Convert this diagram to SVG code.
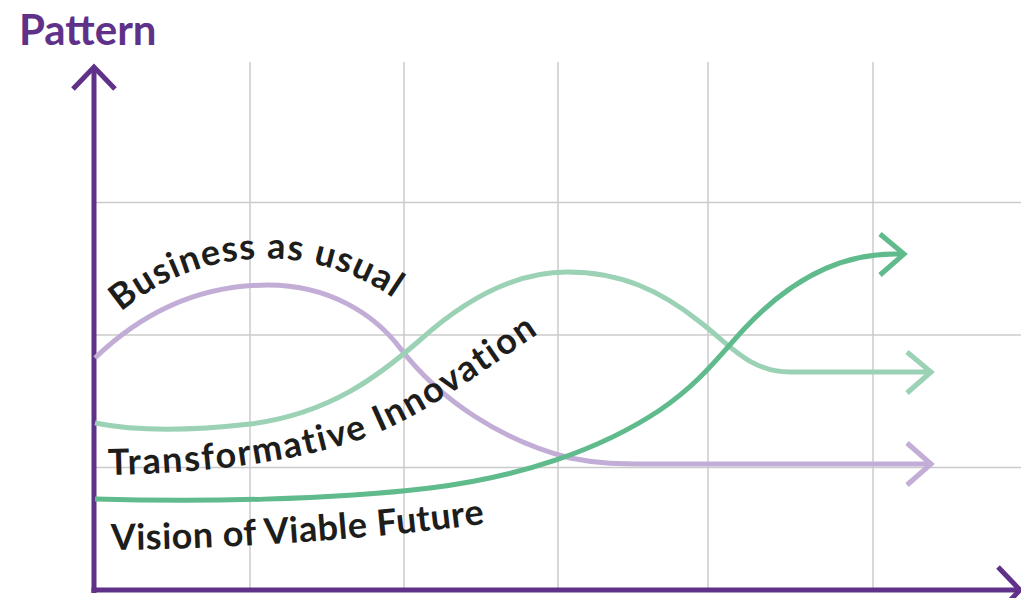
<svg xmlns="http://www.w3.org/2000/svg" width="1021" height="598" viewBox="0 0 1021 598">
<style>
.grid{stroke:#cbcbcb;stroke-width:1.5;fill:none}
.axis{stroke:#5f3189;stroke-width:5;fill:none;stroke-linecap:butt;stroke-linejoin:miter}
.curve{fill:none;stroke-width:5;stroke-linejoin:miter}
.bau{stroke:#c1add6}
.ti{stroke:#9bd1b5}
.vvf{stroke:#5fba8c}
.lbl{font-family:Lato,"Open Sans","Liberation Sans",sans-serif;font-weight:700;font-size:36px;fill:#1d1d1b}
.title{font-family:Lato,"Open Sans","Liberation Sans",sans-serif;font-weight:700;font-size:42px;fill:#5f3189}
</style>
<defs>
<path id="p-bau" d="M 121 312 A 224 224 0 0 1 404 306"/>
<path id="p-ti" d="M 108 475 C 200 473, 270 465, 340 446 C 410 427, 470 380, 545 329"/>
<path id="p-vvf" d="M 111 550 Q 300 548, 492 523"/>
</defs>
<rect width="1021" height="598" fill="#ffffff"/>
<g id="grid">
<line class="grid" x1="250" y1="62" x2="250" y2="590"/>
<line class="grid" x1="404" y1="62" x2="404" y2="590"/>
<line class="grid" x1="558" y1="62" x2="558" y2="590"/>
<line class="grid" x1="708" y1="62" x2="708" y2="590"/>
<line class="grid" x1="873" y1="62" x2="873" y2="590"/>
<line class="grid" x1="94" y1="202.5" x2="1021" y2="202.5"/>
<line class="grid" x1="94" y1="335" x2="1021" y2="335"/>
<line class="grid" x1="94" y1="467.5" x2="1021" y2="467.5"/>
</g>
<g id="axes">
<line class="axis" x1="94" y1="593" x2="94" y2="68"/>
<polyline class="axis" points="73,89 94,67 115,89"/>
<line class="axis" x1="91.5" y1="590" x2="1018" y2="590"/>
<polyline class="axis" points="998,567 1020,590 998,613"/>
<text id="y-label" class="title" x="19" y="45">Pattern</text>
</g>
<g id="connectors">
<g id="business-as-usual">
<path class="curve bau" d="M 95 358 C 150 305, 210 285, 268 285 C 330 285, 375 315, 400 348 C 440 400, 500 440, 570 458 C 600 464, 620 464, 650 464 L 929 464"/>
<polyline class="curve bau" points="907,443 931,464 907,485"/>
</g>
<g id="transformative-innovation">
<path class="curve ti" d="M 95 423 C 130 430, 180 432, 250 424 C 330 414, 380 375, 420 340 C 470 295, 520 272, 567 272 C 620 272, 660 290, 700 322 C 730 345, 750 372, 790 372 L 929 372"/>
<polyline class="curve ti" points="907,352 931,372 907,393"/>
</g>
<g id="vision-of-viable-future">
<path class="curve vvf" d="M 95 499 C 200 502, 330 500, 430 488 C 520 477, 600 450, 660 410 C 700 383, 720 355, 745 328 C 790 280, 840 252, 900 254"/>
<polyline class="curve vvf" points="880,234 904,254 880,275"/>
</g>
</g>
<g id="labels">
<text id="label-bau" class="lbl" letter-spacing="1.1"><textPath href="#p-bau">Business as usual</textPath></text>
<text id="label-ti" class="lbl" letter-spacing="1.8"><textPath href="#p-ti">Transformative Innovation</textPath></text>
<text id="label-vvf" class="lbl" letter-spacing="0.5"><textPath href="#p-vvf">Vision of Viable Future</textPath></text>
</g>
</svg>
